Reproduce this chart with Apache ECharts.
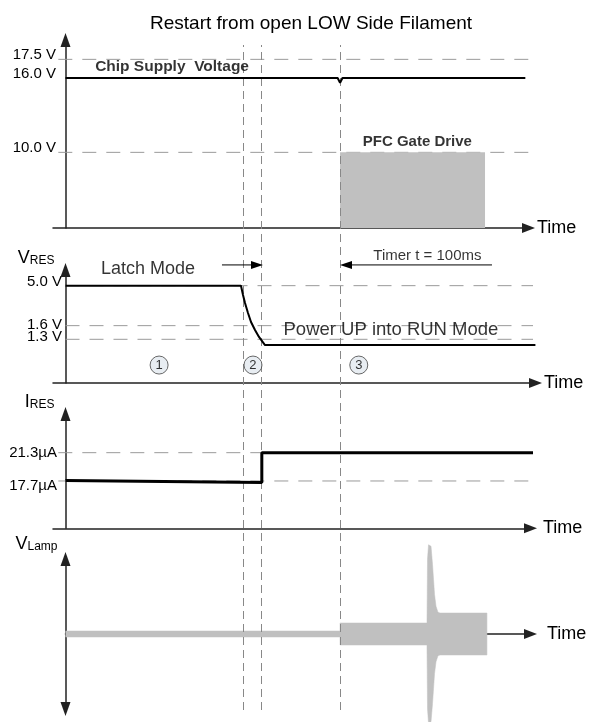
<!DOCTYPE html>
<html><head><meta charset="utf-8">
<script src="https://cdn.jsdelivr.net/npm/echarts@6/dist/echarts.min.js"></script>
<style>html,body{margin:0;padding:0;background:#fff}#c{width:593px;height:722px}</style>
</head><body><div id="c"></div>
<script>
// ---------------- data ----------------
const titleText = 'Restart from open LOW Side Filament';
const eventTimes = [37.0, 40.8, 57.2];            // end of latch, start of RUN, timer start
// Panel 1 - chip supply & PFC gate drive (V)
const supplyTickValues = [17.5, 16.0, 10.0];
const supplyTickLabels = ['17.5 V', '16.0 V', '10.0 V'];
const supplyDashedLevels = [17.5, 10.0];
const chipSupplyT = [0, 56.7, 57.2, 57.7, 95.8];
const chipSupplyV = [16.0, 16.0, 15.6, 16.0, 16.0];
const pfcT = [57.2, 87.4];
const pfcV = [10.0, 10.0];
// Panel 2 - V_RES (schematic, not-to-scale levels as in the source)
const vresTickValues = [7.485, 4.41, 3.36];
const vresTickLabels = ['5.0 V', '1.6 V', '1.3 V'];
const vresT = [0, 36.56, 36.98, 37.4, 38.02, 38.65, 39.48, 40.31, 41.56, 97.9];
const vresV = [7.485, 7.485, 6.77, 6.15, 5.38, 4.69, 4.08, 3.54, 2.92, 2.92];
// Panel 3 - I_RES (µA)
const iresTickValues = [21.3, 17.7];
const iresTickLabels = ['21.3µA', '17.7µA'];
const iresT = [0, 40.9, 40.9, 100];
const iresV = [17.75, 17.5, 21.3, 21.3];
// Panel 4 - V_Lamp envelope (relative amplitude)
const lampT = [0, 57.2, 57.2, 75.31, 75.42, 75.63, 76.15, 76.46, 76.67, 76.88, 77.19, 77.6, 78.02, 87.8, 87.8];
const lampA = [0.04, 0.04, 0.147, 0.147, 1.0, 1.19, 1.17, 0.93, 0.73, 0.53, 0.37, 0.29, 0.28, 0.28, 0];
// circled phase markers
const phaseLabels = ['1', '2', '3'];
const phaseT = [19.5, 39.06, 61.1];

// ---------------- layout ----------------
const FONT = '"Liberation Sans", Arial, Helvetica, sans-serif';
const X0 = 65.5, PX = 4.8;
const pair = (ts, vs) => ts.map((t, i) => [t, vs[i]]);
const panels = [
  {top: 40,  height: 188,   xMin: -2.6, xMax: 96.46,  yMin: 3.9,   yMax: 19.06},
  {top: 270, height: 113,   xMin: -2.6, xMax: 97.92,  yMin: 0,     yMax: 8.69},
  {top: 414, height: 114.3, xMin: -2.6, xMax: 96.875, yMin: 11.68, yMax: 26.22},
  {top: 559, height: 150,   xMin: 0,    xMax: 96.875, yMin: -1,    yMax: 1},
  {top: 45,  height: 665,   xMin: -2.6, xMax: 96.875, yMin: 0,     yMax: 1}
];
const AX = '#222';
const grids = panels.map(p => ({left: X0 + p.xMin * PX, top: p.top, width: (p.xMax - p.xMin) * PX, height: p.height, containLabel: false, outerBoundsMode: 'none'}));

function xAxisCfg(i, nameGap) {
  const p = panels[i];
  return {type: 'value', gridIndex: i, min: p.xMin, max: p.xMax,
    axisLabel: {show: false}, axisTick: {show: false}, splitLine: {show: false},
    axisLine: {show: true, onZero: true, symbol: ['none', 'triangle'], symbolSize: [10, 13], lineStyle: {color: AX, width: 1.5}},
    name: 'Time', nameLocation: 'end', nameGap: nameGap,
    nameTextStyle: {fontSize: 18, color: '#000', fontFamily: FONT, align: 'left', verticalAlign: 'middle'}};
}
function yAxisCfg(i, ticks, labels, label, richKeys, name, nameGap, namePadRight, bothArrows, lineShow) {
  const p = panels[i];
  const cfg = {type: 'value', gridIndex: i, position: 'left', offset: 0, min: p.yMin, max: p.yMax,
    axisTick: {show: false}, splitLine: {show: false},
    axisLine: {show: lineShow !== false, onZero: true, symbol: bothArrows ? ['triangle', 'triangle'] : ['none', 'triangle'], symbolSize: [10, 14], lineStyle: {color: AX, width: 1.5}},
    axisLabel: Object.assign({show: ticks.length > 0, customValues: ticks, hideOverlap: false, fontSize: 15, color: '#000', fontFamily: FONT,
      formatter: v => {
        let best = 0; ticks.forEach((t, k) => { if (Math.abs(t - v) < Math.abs(ticks[best] - v)) best = k; });
        return richKeys ? '{' + richKeys[best] + '|' + labels[best] + '}' : labels[best];
      }}, label)};
  if (name) {
    cfg.name = name; cfg.nameLocation = 'end'; cfg.nameGap = nameGap;
    cfg.nameTextStyle = {align: 'right', verticalAlign: 'bottom', padding: [0, namePadRight, 0, 0],
      rich: {v: {fontSize: 18, color: '#000', fontFamily: FONT},
             s: {fontSize: 12, color: '#000', fontFamily: FONT, padding: [6, 0, 0, 0]}}};
  }
  return cfg;
}

const dashStyle = {color: '#9a9a9a', width: 1, type: [14, 10]};
function dashedLevel(i, v, t0, t1) {
  return {type: 'line', xAxisIndex: i, yAxisIndex: i, data: [[t0, v], [t1, v]], showSymbol: false, clip: false,
    silent: true, lineStyle: dashStyle, z: 1};
}
function note(text, t, v, style) {
  return {value: [t, v], label: Object.assign({show: true, position: 'inside', formatter: text, color: '#000', fontSize: 15, fontFamily: FONT}, style)};
}

const series = [];
// panel 1
supplyDashedLevels.forEach(v => series.push(dashedLevel(0, v, -1.5, 98.85)));
series.push({type: 'line', xAxisIndex: 0, yAxisIndex: 0, data: pair(pfcT, pfcV), showSymbol: false, silent: true,
  lineStyle: {width: 0, color: '#c0c0c0'}, areaStyle: {color: '#c0c0c0', opacity: 1, origin: 'start'}, z: 2});
series.push({type: 'line', xAxisIndex: 0, yAxisIndex: 0, data: pair(chipSupplyT, chipSupplyV), showSymbol: false, silent: true,
  lineStyle: {color: '#000', width: 2}, z: 5});
series.push({type: 'scatter', xAxisIndex: 0, yAxisIndex: 0, clip: false, silent: true, symbolSize: 1, itemStyle: {color: 'rgba(0,0,0,0)'},
  data: [note('Chip Supply  Voltage', 22.2, 16.9, {fontWeight: 'bold', fontSize: 15.5}), note('PFC Gate Drive', 73.3, 10.83, {fontWeight: 'bold'})], z: 6});
// panel 2
vresTickValues.forEach(v => series.push(dashedLevel(1, v, 0, 97.4)));
series.push({type: 'line', xAxisIndex: 1, yAxisIndex: 1, data: pair(vresT, vresV), showSymbol: false, silent: true,
  lineStyle: {color: '#000', width: 2}, z: 5});
series.push({type: 'line', xAxisIndex: 1, yAxisIndex: 1, clip: false, silent: true, showSymbol: true, lineStyle: {color: '#000', width: 1}, itemStyle: {color: '#000'},
  data: [{value: [32.6, 9.08], symbol: 'none'}, {value: [39.9, 9.08], symbol: 'triangle', symbolSize: [8, 12], symbolRotate: -90}], z: 5});
series.push({type: 'line', xAxisIndex: 1, yAxisIndex: 1, clip: false, silent: true, showSymbol: true, lineStyle: {color: '#000', width: 1}, itemStyle: {color: '#000'},
  data: [{value: [88.85, 9.08], symbol: 'none'}, {value: [58.44, 9.08], symbol: 'triangle', symbolSize: [8, 12], symbolRotate: 90}], z: 5});
series.push({type: 'scatter', xAxisIndex: 1, yAxisIndex: 1, clip: false, silent: true, symbolSize: 1, itemStyle: {color: 'rgba(0,0,0,0)'},
  data: [note('Latch Mode', 17.2, 8.77, {fontSize: 18}), note('Timer t = 100ms', 75.4, 9.77, {fontSize: 15}),
         note('Power UP into RUN Mode', 67.8, 4.08, {fontSize: 18.5})], z: 6});
series.push({type: 'scatter', xAxisIndex: 1, yAxisIndex: 1, clip: false, silent: true, symbol: 'circle', symbolSize: 18,
  itemStyle: {color: '#e2e8ef', borderColor: '#444', borderWidth: 1},
  data: phaseT.map((t, k) => ({value: [t, 1.38], label: {show: true, position: 'inside', formatter: phaseLabels[k], fontSize: 13, color: '#000', fontFamily: FONT}})), z: 6});
// panel 3
iresTickValues.forEach(v => series.push(dashedLevel(2, v, -1.5, 96.77)));
series.push({type: 'line', xAxisIndex: 2, yAxisIndex: 2, data: pair(iresT, iresV), showSymbol: false, silent: true, clip: false,
  lineStyle: {color: '#000', width: 3}, z: 5});
// panel 4
[1, -1].forEach(sgn => series.push({type: 'line', xAxisIndex: 3, yAxisIndex: 3, data: pair(lampT, lampA.map(a => sgn * a)),
  showSymbol: false, silent: true, clip: false, lineStyle: {width: 0.5, color: '#c0c0c0'}, areaStyle: {color: '#c0c0c0', opacity: 1}, z: 2}));
// overlay: event markers
series.push({type: 'line', xAxisIndex: 4, yAxisIndex: 4, data: [], silent: true, z: 3,
  markLine: {silent: true, symbol: 'none', animation: false, label: {show: false}, lineStyle: {color: '#888', width: 1, type: [8, 5]},
    data: eventTimes.map(t => ({xAxis: t}))}});

const vresLabelStyle = {margin: -9, verticalAlign: 'bottom', lineHeight: 8,
  rich: {a: {lineHeight: 7}, b: {lineHeight: 2}, c: {lineHeight: 5}}};
const option = {
  animation: false,
  textStyle: {fontFamily: FONT},
  title: {text: titleText, left: 145, top: 9, textStyle: {fontSize: 19, fontWeight: 'normal', color: '#000', fontFamily: FONT}},
  grid: grids,
  xAxis: [xAxisCfg(0, 8.5), xAxisCfg(1, 8.5), xAxisCfg(2, 12.5), xAxisCfg(3, 16.5),
          {type: 'value', gridIndex: 4, min: panels[4].xMin, max: panels[4].xMax, show: false}],
  yAxis: [
    yAxisCfg(0, supplyTickValues, supplyTickLabels, {margin: -3, verticalAlign: 'bottom', lineHeight: 9}),
    yAxisCfg(1, vresTickValues.slice(0, 2), vresTickLabels.slice(0, 2), vresLabelStyle, ['a', 'b'], '{v|V}{s|RES}', 3, 11),
    yAxisCfg(2, iresTickValues, iresTickLabels, {margin: -4, verticalAlign: 'middle',
      rich: {u: {}, d: {padding: [10, 0, 0, 0]}}}, ['u', 'd'], '{v|I}{s|RES}', 3, 11),
    yAxisCfg(3, [], [], {}, null, '{v|V}{s|Lamp}', 6, 8, true),
    {type: 'value', gridIndex: 4, min: 0, max: 1, show: false},
    // second label axis for the closely spaced 1.3 V level in panel 2
    yAxisCfg(1, vresTickValues.slice(2), vresTickLabels.slice(2), vresLabelStyle, ['c'], null, 0, 0, false, false)
  ],
  series: series
};
const chart = echarts.init(document.getElementById('c'), null, {renderer: 'canvas'});
chart.setOption(option);
</script></body></html>
